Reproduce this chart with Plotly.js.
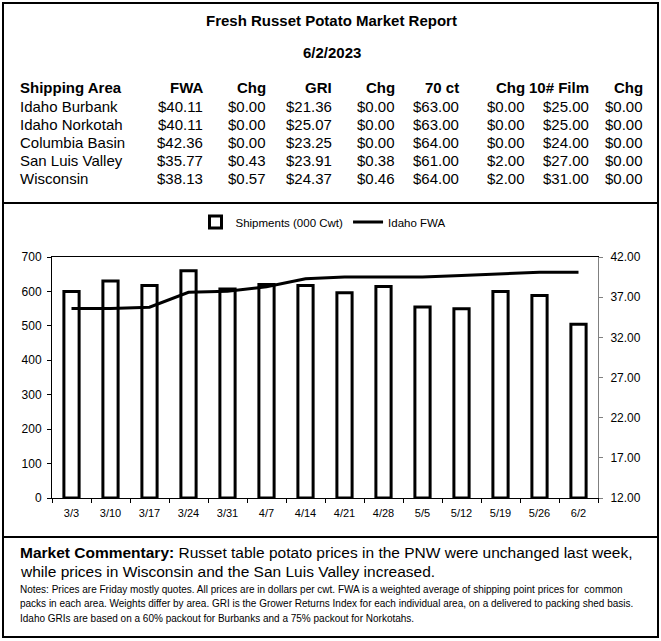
<!DOCTYPE html>
<html>
<head>
<meta charset="utf-8">
<script src="https://cdn.plot.ly/plotly-3.0.1.min.js"></script>
<style>html,body{margin:0;padding:0;background:#fff;}#chart{width:661px;height:641px;}</style>
</head>
<body>
<div id="chart"></div>
<script>
// ---- Data ----
const weeks = ["3/3","3/10","3/17","3/24","3/31","4/7","4/14","4/21","4/28","5/5","5/12","5/19","5/26","6/2"];
const shipments = [600, 630, 617, 660, 607, 620, 617, 596, 614, 555, 550, 600, 588, 505];
const idahoFWA = [35.6, 35.6, 35.75, 37.6, 37.75, 38.3, 39.3, 39.5, 39.5, 39.5, 39.7, 39.9, 40.11, 40.11];

const tableHeaders = ["Shipping Area","FWA","Chg","GRI","Chg","70 ct","Chg","10# Film","Chg"];
const areas = ["Idaho Burbank","Idaho Norkotah","Columbia Basin","San Luis Valley","Wisconsin"];
const fwa = ["$40.11","$40.11","$42.36","$35.77","$38.13"];
const fwaChg = ["$0.00","$0.00","$0.00","$0.43","$0.57"];
const gri = ["$21.36","$25.07","$23.25","$23.91","$24.37"];
const griChg = ["$0.00","$0.00","$0.00","$0.38","$0.46"];
const ct70 = ["$63.00","$63.00","$64.00","$61.00","$64.00"];
const ct70Chg = ["$0.00","$0.00","$0.00","$2.00","$2.00"];
const film10 = ["$25.00","$25.00","$24.00","$27.00","$31.00"];
const film10Chg = ["$0.00","$0.00","$0.00","$0.00","$0.00"];

const reportTitle = "Fresh Russet Potato Market Report";
const reportDate = "6/2/2023";
const commentaryLead = "Market Commentary:";
const commentary1 = " Russet table potato prices in the PNW were unchanged last week,";
const commentary2 = "while prices in Wisconsin and the San Luis Valley increased.";
const notes = [
  "Notes: Prices are Friday mostly quotes. All prices are in dollars per cwt. FWA is a weighted average of shipping point prices for  common",
  "packs in each area. Weights differ by area. GRI is the Grower Returns Index for each individual area, on a delivered to packing shed basis.",
  "Idaho GRIs are based on a 60% packout for Burbanks and a 75% packout for Norkotahs."
];

// ---- Layout helpers (pixel -> paper) ----
const L = 52, R = 598, T = 257, B = 498;
const X = px => (px - L) / (R - L);
const Y = py => (B - py) / (B - T);
const FONT = "Arial, 'Liberation Sans', sans-serif";

const annotations = [];
function txt(text, px, py, opts) {
  annotations.push(Object.assign({
    text: text, x: X(px), y: Y(py), xref: "paper", yref: "paper",
    showarrow: false, xanchor: "left", yanchor: "middle",
    font: {family: FONT, size: 15, color: "#000"}
  }, opts || {}));
}

txt("<b>" + reportTitle + "</b>", 331, 20, {xanchor: "center", font: {family: FONT, size: 15, color: "#000"}});
txt("<b>" + reportDate + "</b>", 332, 53, {xanchor: "center", font: {family: FONT, size: 15, color: "#000"}});

const colRight = [null, 205, 268, 334, 397, 461, 527, 591, 645];
const headerY = 87;
tableHeaders.forEach((h, i) => {
  if (i === 0) txt("<b>" + h + "</b>", 18, headerY);
  else txt("<b>" + h + "</b>", colRight[i], headerY, {xanchor: "right"});
});
const cols = [areas, fwa, fwaChg, gri, griChg, ct70, ct70Chg, film10, film10Chg];
areas.forEach((a, r) => {
  const py = 106 + r * 18;
  cols.forEach((c, i) => {
    if (i === 0) txt(c[r], 18, py);
    else txt(c[r], colRight[i], py, {xanchor: "right"});
  });
});

txt("<b>" + commentaryLead + "</b>" + commentary1, 18, 552, {font: {family: FONT, size: 15.5, color: "#000"}});
txt(commentary2, 18, 571, {font: {family: FONT, size: 15.5, color: "#000"}});
notes.forEach((n, i) => txt(n, 18, 589 + i * 14.5, {font: {family: FONT, size: 10, color: "#000"}}));

const shapes = [
  {type: "rect", xref: "paper", yref: "paper", x0: X(3), x1: X(658), y0: Y(3), y1: Y(637), line: {color: "#000", width: 2}},
  {type: "line", xref: "paper", yref: "paper", x0: X(3), x1: X(658), y0: Y(203), y1: Y(203), line: {color: "#000", width: 2}},
  {type: "line", xref: "paper", yref: "paper", x0: X(3), x1: X(658), y0: Y(537), y1: Y(537), line: {color: "#000", width: 2}}
];

const traces = [
  {
    type: "bar", name: "Shipments (000 Cwt)", x: weeks, y: shipments,
    width: 0.39,
    marker: {color: "#fff", line: {color: "#000", width: 3}},
    yaxis: "y"
  },
  {
    type: "scatter", mode: "lines", name: "Idaho FWA", x: weeks, y: idahoFWA,
    line: {color: "#000", width: 3},
    yaxis: "y2"
  }
];

const layout = {
  width: 661, height: 641,
  margin: {l: L, r: 661 - R, t: T, b: 641 - B, pad: 0},
  paper_bgcolor: "#fff", plot_bgcolor: "#fff",
  font: {family: FONT, size: 11, color: "#000"},
  showlegend: true,
  legend: {orientation: "h", x: X(323), xanchor: "center", y: Y(222), yanchor: "middle",
           font: {family: FONT, size: 11.5, color: "#000"}, bgcolor: "rgba(0,0,0,0)", itemwidth: 30},
  xaxis: {type: "category", tickson: "boundaries", ticks: "outside", ticklen: 4, tickcolor: "#000",
          showline: true, mirror: true, linecolor: "#000", linewidth: 1, showgrid: false, zeroline: false,
          ticklabelstandoff: 5,
          tickfont: {family: FONT, size: 11, color: "#000"}},
  yaxis: {range: [0, 700], dtick: 100, ticks: "outside", ticklen: 4, tickcolor: "#000",
          showline: true, linecolor: "#000", linewidth: 1, showgrid: false, zeroline: false,
          ticklabelstandoff: 3,
          tickfont: {family: FONT, size: 12, color: "#000"}},
  yaxis2: {range: [12, 42], tick0: 12, dtick: 5, tickformat: ".2f", overlaying: "y", side: "right",
           ticks: "outside", ticklen: 4, tickcolor: "#808080",
           showline: true, linecolor: "#808080", linewidth: 1, showgrid: false, zeroline: false,
           ticklabelstandoff: 5,
           tickfont: {family: FONT, size: 12, color: "#000"}},
  annotations: annotations,
  shapes: shapes
};

Plotly.newPlot("chart", traces, layout, {displayModeBar: false, staticPlot: true});
</script>
</body>
</html>
